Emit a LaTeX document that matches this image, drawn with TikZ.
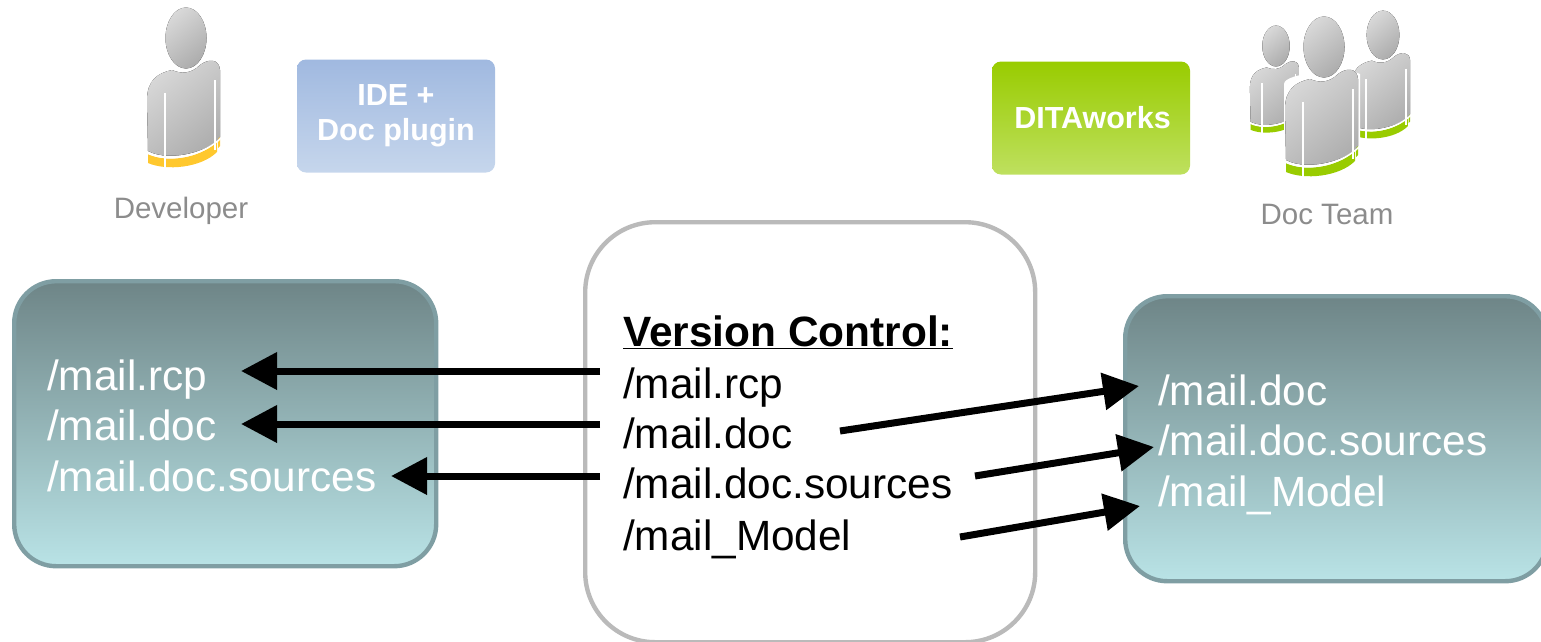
\documentclass[tikz,border=0pt]{standalone}
\usepackage{fontspec}
\setmainfont{Liberation Sans}
\usetikzlibrary{arrows.meta,positioning}
\definecolor{boxedge}{HTML}{7F9EA3}
\definecolor{boxtop}{HTML}{6E8587}
\definecolor{boxbot}{HTML}{B9E3E6}
\definecolor{ptop}{HTML}{D8D8D8}
\definecolor{pmid}{HTML}{B2B2B2}
\definecolor{pbot}{HTML}{ADADAD}
\definecolor{devband}{HTML}{FFC82E}
\definecolor{teamband}{HTML}{99CC00}
\definecolor{capcol}{HTML}{8C8C8C}
\tikzset{x=1pt,y=-1pt,
 wsbox/.style={draw=boxedge,line width=4.4pt,rounded corners=42pt,top color=boxtop,bottom color=boxbot,minimum width=422pt,minimum height=285pt,inner sep=0pt},
 vcbox/.style={draw=black!27,line width=4.4pt,fill=white,rounded corners=70pt,inner sep=0pt},
 wstext/.style={text=white,font=\fontsize{42.3}{42.3}\selectfont,anchor=base west,inner sep=0pt},
 vctext/.style={text=black,font=\fontsize{42.3}{42.3}\selectfont,anchor=base west,inner sep=0pt},
 arrowline/.style={line width=7pt,-{Triangle[length=36pt,width=36pt]}},
 captext/.style={text=capcol,font=\fontsize{29.5}{29.5}\selectfont,inner sep=0pt},
 toolbox/.style={rounded corners=9pt,minimum width=198pt,minimum height=113pt,inner sep=0pt,align=center,text=white,font=\bfseries\fontsize{30.5}{35}\selectfont},
 pshade/.style={top color=ptop,middle color=pmid,bottom color=pbot,shading angle=40},
}
\newcommand{\personfig}[4]{%
 \begin{scope}[shift={(#1,#2)},scale=#3]
  \fill[pshade] (-38,113) -- (-39,62) .. controls (-39,42) and (-28,35) .. (-14,32) .. controls (-5,36) and (5,36) .. (14,27) .. controls (22,21) and (33,20) .. (34,32) -- (34,100) .. controls (25,112) and (-15,125) .. (-38,113) -- cycle;
  \fill[#4] (-38,116) .. controls (-15,127) and (20,117) .. (31,103) -- (31,114) .. controls (15,130) and (-20,133) .. (-38,125) -- cycle;
  \fill[#4] (32,101) -- (34,99) -- (34,108) -- (32,110) -- cycle;
  \draw[white,line width=1.5pt] (-39,115) .. controls (-15,126) and (20,116) .. (36,99);
  \draw[white,line width=1.8pt] (-21,55) -- (-21,130);
  \draw[white,line width=1.8pt] (29,42) -- (29,112);
  \fill[pshade] (0,0) ellipse (20.5 and 30.5);
 \end{scope}}
\begin{document}
\begin{tikzpicture}
\useasboundingbox (0,0) rectangle (1541,641);
% figures
\personfig{186}{38}{1}{devband}
\node[captext] (dev) at (181,210.5) {Developer};
\node[toolbox,top color={rgb,255:red,160;green,185;blue,224},middle color={rgb,255:red,160;green,185;blue,224},bottom color={rgb,255:red,198;green,214;blue,236}] (ide) at (396,116) {IDE +\\Doc plugin};
\node[toolbox,top color={rgb,255:red,153;green,204;blue,0},middle color={rgb,255:red,153;green,204;blue,0},bottom color={rgb,255:red,190;green,224;blue,95}] (dita) at (1091,118) {\hspace{3pt}DITAworks};
\node[captext] (team) at (1327,214) {Doc Team};
\personfig{1276}{46}{0.67}{teamband}
\personfig{1383}{35}{0.8}{teamband}
\fill[white] (1284,84) .. controls (1284,72) and (1350,68) .. (1360,74) -- (1360,180) -- (1284,180) -- cycle;
\personfig{1324}{47}{1}{teamband}
% boxes
\node[wsbox,anchor=north west] (left) at (12,279) {};
\node[wsbox,anchor=north west] (right) at (1123,294) {};
\node[vcbox,anchor=north west,minimum width=450pt,minimum height=420pt] (vc) at (583,220) {};
% left text
\node[wstext] (l1) at (47,390) {/mail.rcp};
\node[wstext] (l2) at (47,440) {/mail.doc};
\node[wstext] (l3) at (47,491) {/mail.doc.sources};
% right text
\node[wstext] (r1) at (1158,405) {/mail.doc};
\node[wstext] (r2) at (1158,455) {/mail.doc.sources};
\node[wstext] (r3) at (1158,506) {/mail\_Model};
% vc text
\node[vctext,font=\bfseries\fontsize{42.4}{42.4}\selectfont] (vt) at (623,346) {\underline{Version Control:}};
\node[vctext] (v1) at (623,398) {/mail.rcp};
\node[vctext] (v2) at (623,448) {/mail.doc};
\node[vctext] (v3) at (623,498) {/mail.doc.sources};
\node[vctext] (v4) at (623,550) {/mail\_Model};
% arrows
\coordinate (a1s) at (600,371); \coordinate (a1e) at (241,371);
\coordinate (a2s) at (600,424); \coordinate (a2e) at (241,424);
\coordinate (a3s) at (600,476); \coordinate (a3e) at (391,476);
\coordinate (b1s) at (840,431); \coordinate (b1e) at (1139,386);
\coordinate (b2s) at (975,476); \coordinate (b2e) at (1154,447);
\coordinate (b3s) at (960,537); \coordinate (b3e) at (1140,506);
\draw[arrowline] (a1s) -- (a1e);
\draw[arrowline] (a2s) -- (a2e);
\draw[arrowline] (a3s) -- (a3e);
\draw[arrowline] (b1s) -- (b1e);
\draw[arrowline] (b2s) -- (b2e);
\draw[arrowline] (b3s) -- (b3e);
\end{tikzpicture}
\end{document}
